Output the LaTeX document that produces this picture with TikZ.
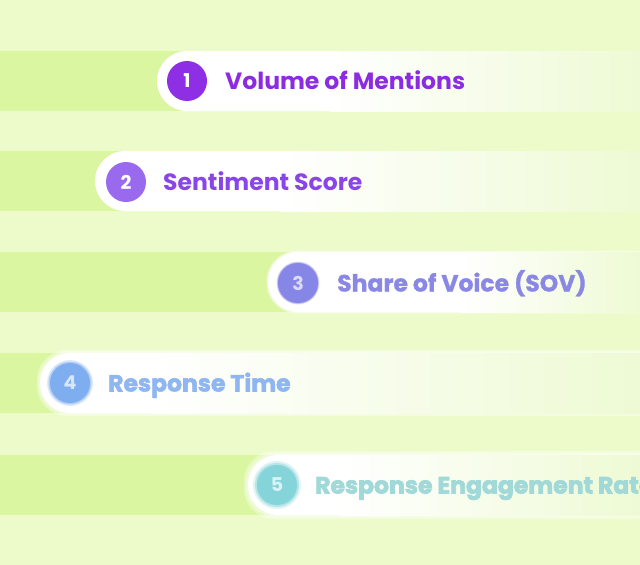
\documentclass[tikz,border=0pt]{standalone}
\usepackage{fontspec}
\setmainfont{Poppins}
\newfontfamily\fatA{Poppins}[FakeBold=1.2]
\newfontfamily\fatB{Poppins}[FakeBold=2.2]
\newfontfamily\fatC{Poppins}[FakeBold=3]
\definecolor{bgc}{HTML}{EDFBCB}
\definecolor{bandc}{HTML}{DAF6A0}
\definecolor{pillend}{HTML}{EEFAD4}
\definecolor{cA}{HTML}{8E2FE6}
\definecolor{tA}{HTML}{8B2BE2}
\definecolor{cB}{HTML}{9A6AEE}
\definecolor{tB}{HTML}{8A45E8}
\definecolor{cC}{HTML}{8686E6}
\definecolor{tC}{HTML}{8A88E4}
\definecolor{cD}{HTML}{7FAEF0}
\definecolor{tD}{HTML}{8FB6F0}
\definecolor{cE}{HTML}{84D4DA}
\definecolor{tE}{HTML}{A0D9D8}
\tikzset{
  lbl/.style={font=\bfseries\fontsize{23.5}{27}\selectfont, inner sep=0pt, anchor=base west},
  badge/.style={circle, minimum size=40pt, inner sep=0pt, text=white, font=\bfseries\fontsize{19}{21}\selectfont},
}
% #1 left x, #2 top y, #3 fade start x, #4 blur radius
\newcommand{\pillrow}[4]{%
  \fill[bandc] (0,#2) rectangle (#1+40,#2+60);
  \ifdim #4pt>0pt
    \foreach \k in {1,0.5}{%
      \fill[white,opacity=0.35,rounded corners=30pt] (#1-#4*\k,#2-#4*\k) rectangle (700,#2+60+#4*\k);}
  \fi
  \fill[white,rounded corners=30pt] (#1,#2) rectangle (700,#2+60);
  \shade[left color=white,right color=pillend] (#3,#2) rectangle (641,#2+60);
}
% #1 name, #2 x, #3 y, #4 blur radius, #5 colour, #6 number
\newcommand{\softbadge}[6]{%
  \fill[#5,opacity=0.25] (#2,#3) circle[radius=20+#4];
  \fill[#5,opacity=0.45] (#2,#3) circle[radius=20+#4/2];
  \node[badge,fill=#5,text opacity=0.7] (#1) at (#2,#3) {#6};
}
\begin{document}
\begin{tikzpicture}[x=1pt,y=-1pt]
\useasboundingbox (0,0) rectangle (640,565);
\clip (0,0) rectangle (640,565);
\fill[bgc] (0,0) rectangle (640,565);

% row 1
\pillrow{157}{51}{330}{0}
\node[badge,fill=cA] (b1) at (187,81) {1};
\node[lbl,text=tA] (t1) at (225,89.5) {Volume of Mentions};

% row 2
\pillrow{95}{151}{280}{0}
\node[badge,fill=cB] (b2) at (126,182) {2};
\node[lbl,text=tB] (t2) at (163,190.5) {Sentiment Score};

% row 3
\pillrow{268}{252}{460}{1.5}
\softbadge{b3}{298}{283}{1.5}{cC}{3}
\node[lbl,text=tC,font=\fatA\bfseries\fontsize{23.5}{27}\selectfont] (t3) at (337,291.5) {Share of Voice (SOV)};

% row 4
\pillrow{40}{353}{150}{3}
\softbadge{b4}{70}{383}{3}{cD}{4}
\node[lbl,text=tD,font=\fatB\bfseries\fontsize{23.5}{27}\selectfont] (t4) at (108,391.5) {Response Time};

% row 5
\pillrow{248}{455}{340}{4}
\softbadge{b5}{277}{485}{4}{cE}{5}
\node[lbl,text=tE,font=\fatC\bfseries\fontsize{23.5}{27}\selectfont] (t5) at (315,493.5) {Response Engagement Rate};
\end{tikzpicture}
\end{document}
